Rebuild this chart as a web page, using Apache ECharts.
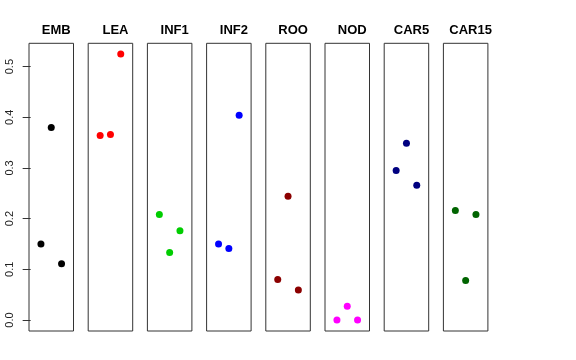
<!DOCTYPE html>
<html>
<head>
<meta charset="utf-8">
<script src="https://cdn.jsdelivr.net/npm/echarts@6/dist/echarts.min.js"></script>
<style>html,body{margin:0;padding:0;background:#fff}#c{width:576px;height:360px}</style>
</head>
<body>
<div id="c"></div>
<script>
// Data
const panels = ["EMB", "LEA", "INF1", "INF2", "ROO", "NOD", "CAR5", "CAR15"];
const xPos = [1, 2, 3];
const EMB = [0.150, 0.380, 0.111];
const LEA = [0.364, 0.366, 0.525];
const INF1 = [0.208, 0.133, 0.176];
const INF2 = [0.150, 0.141, 0.404];
const ROO = [0.080, 0.244, 0.059];
const NOD = [0.000, 0.027, 0.000];
const CAR5 = [0.295, 0.349, 0.266];
const CAR15 = [0.216, 0.078, 0.208];
const yTicks = [0.0, 0.1, 0.2, 0.3, 0.4, 0.5];
const colors = ["#000000", "#FF0000", "#00CD00", "#0000FF", "#8B0000", "#FF00FF", "#000080", "#006400"];
const values = [EMB, LEA, INF1, INF2, ROO, NOD, CAR5, CAR15];

(function () {
const chart = echarts.init(document.getElementById('c'), null, {renderer: 'canvas'});
const left0 = 29, step = 59.2, w = 44.5, gTop = 43.3, gH = 287.7;
const grids = [], xAxes = [], yAxes = [], series = [], titles = [];
panels.forEach((name, i) => {
  const l = left0 + i * step;
  grids.push({left: l, top: gTop, width: w, height: gH, show: true, borderColor: '#333', borderWidth: 1, backgroundColor: 'transparent'});
  xAxes.push({type: 'value', gridIndex: i, min: -0.16, max: 4.16, show: false});
  yAxes.push({
    type: 'value', gridIndex: i, min: -0.0217, max: 0.546, show: i === 0,
    axisLine: {show: false},
    splitLine: {show: false},
    axisTick: {show: i === 0, length: 8, lineStyle: {color: '#333'}, customValues: yTicks},
    axisLabel: {show: i === 0, rotate: 90, margin: 14, fontSize: 11, color: '#222', fontFamily: 'Liberation Sans',
      customValues: yTicks, formatter: v => v.toFixed(1)}
  });
  titles.push({text: name, left: l + w / 2, top: 19, textAlign: 'center',
    textStyle: {fontSize: 13, fontWeight: 'bold', color: '#000', fontFamily: 'Liberation Sans'}});
  series.push({
    type: 'scatter', xAxisIndex: i, yAxisIndex: i, symbolSize: 7,
    itemStyle: {color: colors[i], opacity: 1},
    data: xPos.map((x, j) => [x, values[i][j]]),
    animation: false
  });
});
chart.setOption({
  animation: false,
  title: titles,
  grid: grids,
  xAxis: xAxes,
  yAxis: yAxes,
  series: series
});
})();
</script>
</body>
</html>
